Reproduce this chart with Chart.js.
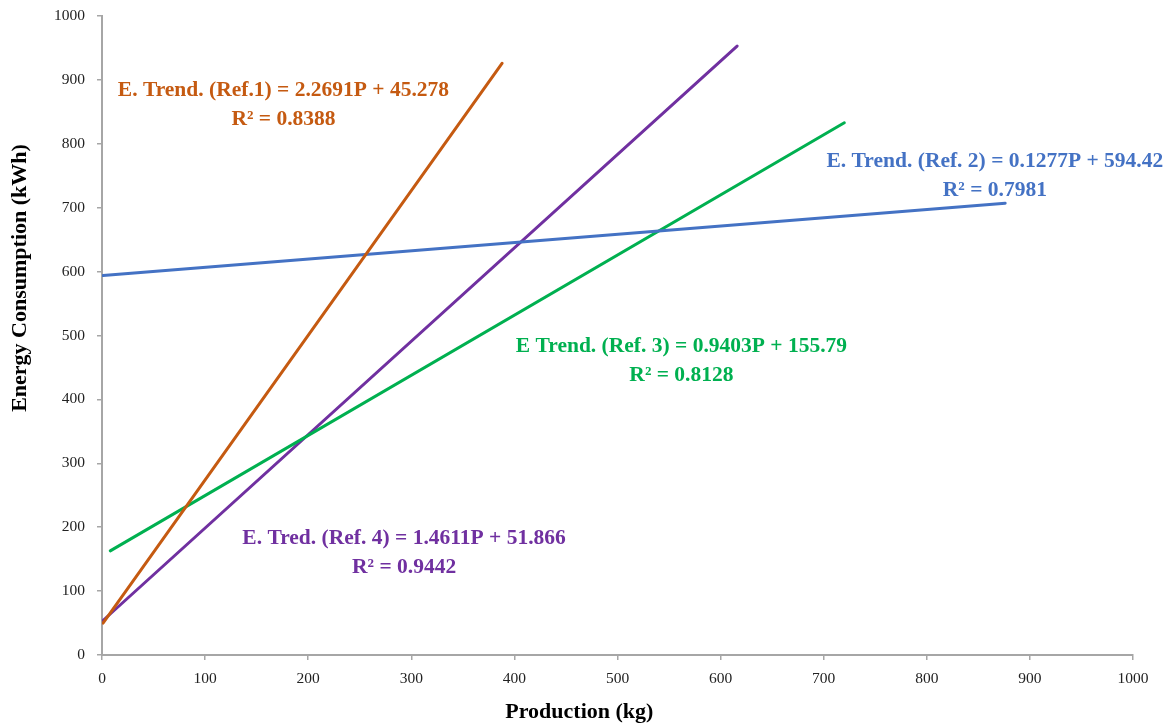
<!DOCTYPE html>
<html>
<head>
<meta charset="utf-8">
<script src="https://cdn.jsdelivr.net/npm/chart.js@4"></script>
<style>
  html, body { margin: 0; padding: 0; background: #fff; }
  #wrap { width: 1167px; height: 727px; }
</style>
</head>
<body>
<div id="wrap"><canvas id="chart"></canvas></div>
<script>
// trend line end points (production kg -> energy kWh)
const ref1X = [1, 388];
const ref1Y = [50, 926];
const ref2X = [1, 876];
const ref2Y = [594, 707];
const ref3X = [8, 720];
const ref3Y = [163, 833];
const ref4X = [1, 616];
const ref4Y = [54, 953];

const seriesNames = ["Ref. 1", "Ref. 2", "Ref. 3", "Ref. 4"];
const seriesColors = ["#C55A11", "#4472C4", "#00B050", "#7030A0"];

// equation labels
const labelLines = [
  ["E. Trend. (Ref.1) = 2.2691P + 45.278", "R\u00B2 = 0.8388"],
  ["E. Trend. (Ref. 2) = 0.1277P + 594.42", "R\u00B2 = 0.7981"],
  ["E Trend. (Ref. 3) = 0.9403P + 155.79", "R\u00B2 = 0.8128"],
  ["E. Tred. (Ref. 4) = 1.4611P + 51.866", "R\u00B2 = 0.9442"]
];
// where each label sits, in data units (centre of first line)
const labelAnchors = [[176, 883], [866, 773], [562, 483], [293, 183]];

const xTitle = "Production (kg)";
const yTitle = "Energy Consumption (kWh)";

const serif = "'Palatino Linotype', 'Book Antiqua', Palatino, 'Liberation Serif', serif";

function toPoints(xs, ys) {
  return xs.map((x, i) => ({ x: x, y: ys[i] }));
}

const allX = [ref1X, ref2X, ref3X, ref4X];
const allY = [ref1Y, ref2Y, ref3Y, ref4Y];

const datasets = seriesNames.map((name, i) => ({
  label: name,
  data: toPoints(allX[i], allY[i]),
  showLine: true,
  borderColor: seriesColors[i],
  backgroundColor: seriesColors[i],
  borderWidth: 3,
  pointRadius: 0,
  borderCapStyle: "round"
}));

// draws the equation text and the axis titles (they sit off-centre in the original)
const textLayer = {
  id: "textLayer",
  afterDatasetsDraw(chart) {
    const ctx = chart.ctx;
    const xs = chart.scales.x;
    const ys = chart.scales.y;
    ctx.save();
    ctx.font = "bold 21.5px " + serif;
    ctx.textAlign = "center";
    ctx.textBaseline = "middle";
    labelLines.forEach((lines, i) => {
      const px = xs.getPixelForValue(labelAnchors[i][0]);
      const py = ys.getPixelForValue(labelAnchors[i][1]);
      ctx.fillStyle = seriesColors[i];
      lines.forEach((t, j) => ctx.fillText(t, px, py + j * 29));
    });

    ctx.fillStyle = "#000";
    ctx.font = "bold 22px " + serif;
    ctx.fillText(xTitle, xs.getPixelForValue(463), chart.height - 15);

    ctx.translate(20, ys.getPixelForValue(590));
    ctx.rotate(-Math.PI / 2);
    ctx.fillText(yTitle, 0, 0);
    ctx.restore();
  }
};

const axisColor = "#A6A6A6";
const tickFont = { family: serif, size: 15.5 };

new Chart(document.getElementById("chart"), {
  type: "scatter",
  data: { datasets },
  plugins: [textLayer],
  options: {
    responsive: true,
    maintainAspectRatio: false,
    animation: false,
    layout: { padding: { top: 16, right: 34, left: 0, bottom: 0 } },
    plugins: {
      legend: { display: false },
      tooltip: { enabled: false }
    },
    scales: {
      x: {
        type: "linear",
        min: 0,
        max: 1000,
        ticks: { stepSize: 100, color: "#222", font: tickFont, padding: 10, maxRotation: 0, callback: v => String(v) },
        grid: { display: true, drawOnChartArea: false, drawTicks: true, tickLength: 5, color: axisColor, lineWidth: 1.5 },
        border: { display: true, color: axisColor, width: 2 },
        afterFit(scale) { scale.height = 72; }
      },
      y: {
        type: "linear",
        min: 0,
        max: 1000,
        ticks: { stepSize: 100, color: "#222", font: tickFont, padding: 12, callback: v => String(v) },
        grid: { display: true, drawOnChartArea: false, drawTicks: true, tickLength: 5, color: axisColor, lineWidth: 1.5 },
        border: { display: true, color: axisColor, width: 2 },
        afterFit(scale) {
          scale.width = 102;
          scale.paddingTop = 0;
          scale.paddingBottom = 0;
        }
      }
    }
  }
});
</script>
</body>
</html>
